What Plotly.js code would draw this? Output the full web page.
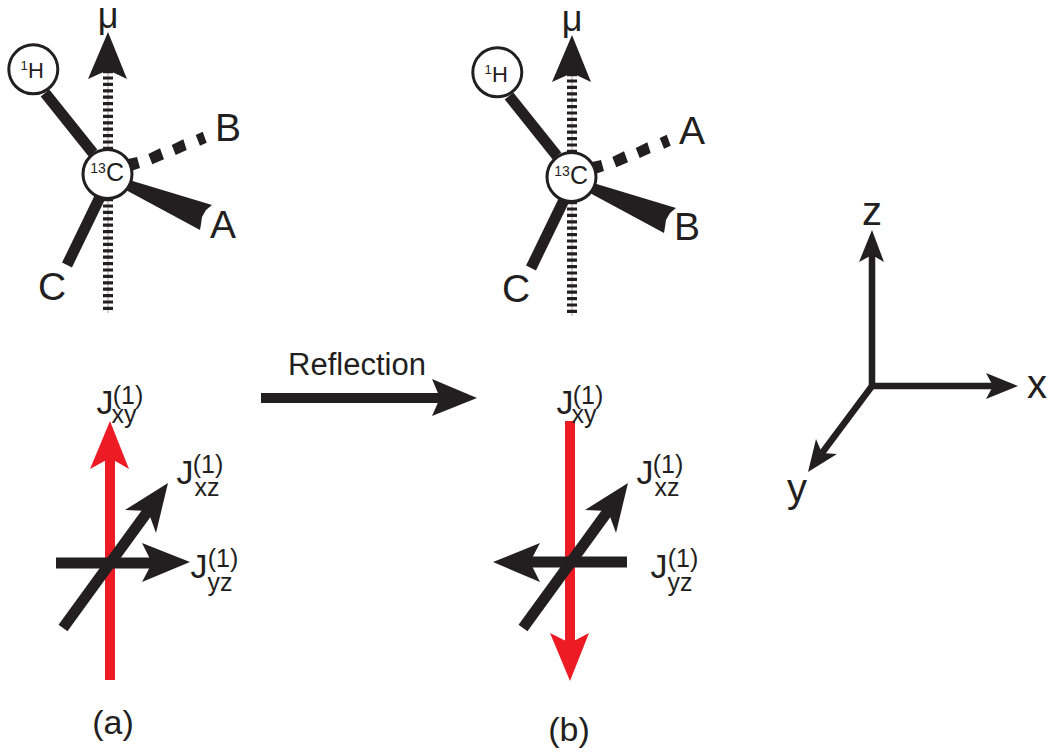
<!DOCTYPE html>
<html><head><meta charset="utf-8">
<script src="https://cdn.plot.ly/plotly-3.0.1.min.js"></script>
<style>html,body{margin:0;padding:0;background:#fff}#c{width:1051px;height:753px}</style>
</head><body><div id="c"></div>
<script>
const INK = '#231f20', RED = '#ed1c24', GREY = '#a9a7a7';
const FONT = '"Liberation Sans", Arial, sans-serif';

// Molecule (a), in picture units; molecule (b) is the same drawing moved by moleculeShift
const moleculeShift = [464, 3];
const axisDotted = {x: [108, 108], y: [70, 313]};
const bondH = {x: [45, 93], y: [93, 153]};
const bondC = {x: [100, 67], y: [197, 265]};
const wedgeX = [126, 212, 206, 202, 201, 200, 124];
const wedgeY = [179, 205, 210, 217, 224, 230, 189];
const hashX = [128, 137, 140, 131, null, 148.3, 160, 164, 152.3, null, 171.7, 183.3, 186.7, 175.7, null, 195.7, 202.7, 206.7, 200];
const hashY = [159, 157, 168, 171, null, 154, 148.3, 159.3, 164.3, null, 145, 139.3, 150, 155, null, 135, 131.7, 142.7, 145.7];
const muHeadX = [108, 127, 108, 88];
const muHeadY = [32, 79, 70, 79];
const atomH = [33.3, 69.3];
const atomC = [107.5, 174];

// Current vectors, panels (a) and (b)
const redLineA = {x: [110, 110], y: [680, 458]};
const redHeadAX = [110, 129, 110, 90], redHeadAY = [421, 469, 458, 469];
const xzLineA = {x: [63, 148], y: [628, 511]};
const xzHeadAX = [168, 125, 148, 156], xzHeadAY = [483, 510, 511, 533];
const yzLineA = {x: [56, 152], y: [563, 563]};
const yzHeadAX = [190, 142, 152, 142], yzHeadAY = [562, 543, 563, 582];

const redLineB = {x: [570, 570], y: [421, 643]};
const redHeadBX = [570, 589, 570, 550], redHeadBY = [681, 633, 643, 633];
const xzLineB = {x: [523, 608], y: [628, 511]};
const xzHeadBX = [628, 585, 608, 616], xzHeadBY = [483, 510, 511, 533];
const yzLineB = {x: [627, 530], y: [562, 562]};
const yzHeadBX = [493, 540, 530, 540], yzHeadBY = [562, 543, 562, 582];

// Reflection arrow
const reflectLine = {x: [261, 440], y: [398, 398]};
const reflectHeadX = [477, 432, 440, 432], reflectHeadY = [398, 379, 398, 416];

// Coordinate frame
const axisZ = {x: [872, 872], y: [388, 255]};
const headZX = [872, 884, 872, 859], headZY = [230, 262, 255, 262];
const axisX = {x: [870, 993], y: [386, 386]};
const headXX = [1018, 986, 993, 986], headXY = [386, 373, 386, 399];
const axisY = {x: [872, 822], y: [386, 453]};
const headYX = [808, 816, 822, 837], headYY = [472, 439, 453, 454];

// Text
const labelText = ['μ','B','A','C','1','H','13','C',
  'μ','A','B','C','1','H','13','C',
  'Reflection','z','x','y','(a)','(b)'];
const labelX = [108,228,223,52,24,36,98,115, 572,692,687,516,488,500,562,579, 357,872,1037,797,113,569];
const labelY = [19,131,228,290,67,72,169,175, 22,134,230,292,71,76,172,178, 367,215,388,492,725,732];
const labelSize = [36,39,39,39,13,22,14,25, 36,39,39,39,13,22,14,25, 31,40,40,40,34,34];

const jText = ['J','(1)','xy','J','(1)','xz','J','(1)','yz','J','(1)','xy','J','(1)','xz','J','(1)','yz'];
const jX = [105,128,124, 185,208,207, 199,223,220, 565,588,584, 645,668,667, 659,683,680];
const jY = [405,398,417, 475,467,490, 569,561,585, 405,398,417, 475,467,490, 569,561,585];
const jSize = [34,25,25, 34,25,25, 34,25,25, 34,25,25, 34,25,25, 34,25,25];

const off = {hoverinfo: 'skip', showlegend: false, type: 'scatter', cliponaxis: false};
const line = (g, color, width, dash) => Object.assign({x: g.x, y: g.y, mode: 'lines',
  line: {color, width, dash: dash || 'solid', shape: 'linear'}}, off);
const poly = (x, y, color) => Object.assign({x, y, mode: 'lines', fill: 'toself', fillcolor: color,
  line: {color, width: 0}}, off);
const mv = (a, d) => a.map(v => v === null ? null : v + d);
const atom = (p) => Object.assign({x: [p[0]], y: [p[1]], mode: 'markers',
  marker: {size: 49, color: '#fff', line: {color: INK, width: 3}}}, off);

function molecule(dx, dy) {
  const g = o => ({x: mv(o.x, dx), y: mv(o.y, dy)});
  return [
    line(g(axisDotted), GREY, 1),
    line(g(axisDotted), INK, 10, '3.2px,3.2px'),
    poly(mv(muHeadX, dx), mv(muHeadY, dy), INK),
    line(g(bondH), INK, 11),
    line(g(bondC), INK, 11),
    poly(mv(wedgeX, dx), mv(wedgeY, dy), INK),
    poly(mv(hashX, dx), mv(hashY, dy), INK),
    atom([atomH[0] + dx, atomH[1] + dy]),
    atom([atomC[0] + dx, atomC[1] + dy])
  ];
}

const data = [].concat(
  molecule(0, 0),
  molecule(moleculeShift[0], moleculeShift[1]),
  [
    line(redLineA, RED, 10), poly(redHeadAX, redHeadAY, RED),
    line(xzLineA, INK, 11), poly(xzHeadAX, xzHeadAY, INK),
    line(yzLineA, INK, 11), poly(yzHeadAX, yzHeadAY, INK),
    line(redLineB, RED, 10), poly(redHeadBX, redHeadBY, RED),
    line(xzLineB, INK, 11), poly(xzHeadBX, xzHeadBY, INK),
    line(yzLineB, INK, 11), poly(yzHeadBX, yzHeadBY, INK),
    line(reflectLine, INK, 10), poly(reflectHeadX, reflectHeadY, INK),
    line(axisZ, INK, 6.5), poly(headZX, headZY, INK),
    line(axisX, INK, 6.5), poly(headXX, headXY, INK),
    line(axisY, INK, 6.5), poly(headYX, headYY, INK),
    Object.assign({x: labelX, y: labelY, text: labelText, mode: 'text', textposition: 'middle center',
      textfont: {family: FONT, size: labelSize, color: INK}}, off),
    Object.assign({x: jX, y: jY, text: jText, mode: 'text', textposition: 'middle center',
      textfont: {family: FONT, size: jSize, color: INK}}, off)
  ]
);

const layout = {
  width: 1051, height: 753, margin: {l: 0, r: 0, t: 0, b: 0},
  paper_bgcolor: '#fff', plot_bgcolor: '#fff', showlegend: false, hovermode: false,
  xaxis: {range: [0, 1051], visible: false, fixedrange: true},
  yaxis: {range: [753, 0], visible: false, fixedrange: true}
};
Plotly.newPlot('c', data, layout, {staticPlot: true, displayModeBar: false});
</script></body></html>
